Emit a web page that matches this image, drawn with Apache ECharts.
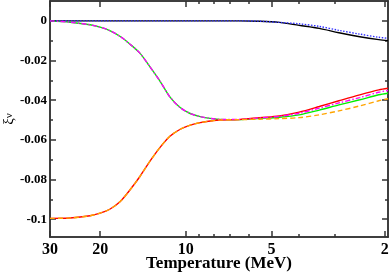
<!DOCTYPE html>
<html><head><meta charset="utf-8">
<script src="https://cdn.jsdelivr.net/npm/echarts@6/dist/echarts.min.js"></script>
<style>html,body{margin:0;padding:0;background:#fff}#c{width:392px;height:274px}</style>
</head><body><div id="c"></div>
<script>
const temperature = [30, 25.5, 21.7, 20, 18.5, 17, 15.7, 14.5, 13.4, 12.3, 11.4, 10.5, 9.7, 8.9, 8, 7.6, 6.5, 5.5, 4.7, 4, 3.4, 2.9, 2.45, 2.1, 1.95];
const xiBlack = [0,0,0,0,0,0,0,0,0,0,0,0,0,0,0,0,0,-0.0002,-0.0008,-0.0023,-0.0038,-0.006,-0.008,-0.0095,-0.01];
const xiBlue = [0,0,0,0,0,0,0,0,0,0,0,0,0,0,0,0,0,-0.0002,-0.0008,-0.0015,-0.0028,-0.0048,-0.0067,-0.0083,-0.0088];
const xiGreen = [0,-0.0007,-0.002,-0.0032,-0.0049,-0.0079,-0.0118,-0.0163,-0.023,-0.0306,-0.0382,-0.0436,-0.0466,-0.0483,-0.0494,-0.0497,-0.0498,-0.0492,-0.0486,-0.0474,-0.045,-0.0424,-0.0398,-0.0373,-0.0365];
const xiMagenta = [0,-0.0007,-0.002,-0.0032,-0.0049,-0.0079,-0.0118,-0.0163,-0.023,-0.0306,-0.0382,-0.0436,-0.0466,-0.0483,-0.0494,-0.0497,-0.0497,-0.049,-0.0482,-0.0466,-0.044,-0.0414,-0.0387,-0.036,-0.0351];
const xiRed = [-0.0996,-0.0994,-0.0983,-0.097,-0.095,-0.0911,-0.0852,-0.0785,-0.071,-0.0637,-0.0583,-0.0548,-0.0527,-0.0513,-0.0503,-0.05,-0.0498,-0.0488,-0.0479,-0.046,-0.0432,-0.0403,-0.0373,-0.0348,-0.034];
const xiOrange = [-0.0996,-0.0994,-0.0983,-0.097,-0.095,-0.0911,-0.0852,-0.0785,-0.071,-0.0637,-0.0583,-0.0548,-0.0527,-0.0513,-0.0503,-0.05,-0.0498,-0.0496,-0.0493,-0.0488,-0.0474,-0.0454,-0.0429,-0.0403,-0.0393];

const xMajorTicks = [30, 20, 10, 5, 2];
const xMinorTicks = [9, 8, 7, 6, 4, 3];
const yMajorTicks = [0, -0.02, -0.04, -0.06, -0.08, -0.1];
const yMinorTicks = [-0.01, -0.03, -0.05, -0.07, -0.09];

const FONT = '"Liberation Serif", "DejaVu Serif", serif';
const AX = {color: '#333', width: 1.5};

function pairs(ys) { return temperature.map((t, i) => [t, ys[i]]); }

function xAx(pos, vals, len, showLabels, extra) {
  return Object.assign({
    type: 'log', logBase: 10, min: 1.95, max: 30, inverse: true, position: pos,
    axisLine: {show: true, onZero: false, lineStyle: AX},
    axisTick: {show: true, inside: true, length: len, customValues: vals, lineStyle: AX},
    axisLabel: {show: showLabels, customValues: vals, margin: 5, color: '#000',
      fontFamily: FONT, fontWeight: 'bold', fontSize: 16},
    splitLine: {show: false}, minorTick: {show: false}, minorSplitLine: {show: false}
  }, extra || {});
}
function yAx(pos, vals, len, showLabels, extra) {
  return Object.assign({
    type: 'value', min: -0.109, max: 0.01, position: pos,
    axisLine: {show: true, onZero: false, lineStyle: AX},
    axisTick: {show: true, inside: true, length: len, customValues: vals, lineStyle: AX},
    axisLabel: {show: showLabels, customValues: vals, margin: 3, color: '#000',
      fontFamily: FONT, fontWeight: 'bold', fontSize: 13,
      formatter: v => (Math.abs(v) < 1e-9 ? '0' : String(Math.round(v * 100) / 100))},
    splitLine: {show: false}
  }, extra || {});
}

function line(ys, color, type, z) {
  return {type: 'line', data: pairs(ys), xAxisIndex: 0, yAxisIndex: 0, showSymbol: false,
    symbol: 'none', smooth: 0.3, z: z,
    lineStyle: {color: color, width: 1.4, type: type}};
}

const chart = echarts.init(document.getElementById('c'), null, {renderer: 'canvas'});
chart.setOption({
  animation: false,
  backgroundColor: '#fff',
  grid: {left: 50, right: 4, top: 1, bottom: 37, containLabel: false, outerBoundsMode: 'none'},
  xAxis: [
    xAx('bottom', xMajorTicks, 6, true, {name: 'Temperature (MeV)', nameLocation: 'middle', nameGap: 18,
      nameMoveOverlap: false,
      nameTextStyle: {fontFamily: FONT, fontWeight: 'bold', fontSize: 17, color: '#000'}}),
    xAx('bottom', xMinorTicks, 3, false),
    xAx('top', xMajorTicks, 6, false),
    xAx('top', xMinorTicks, 3, false)
  ],
  yAxis: [
    yAx('left', yMajorTicks, 6, true, {name: '{a|ξ}{b|ν}', nameLocation: 'middle', nameGap: 32, nameRotate: 90,
      nameMoveOverlap: false,
      nameTextStyle: {fontFamily: FONT, fontSize: 15, color: '#000', rich: {
        a: {fontFamily: FONT, fontSize: 15, color: '#000', height: 18, lineHeight: 18, verticalAlign: 'middle'},
        b: {fontFamily: FONT, fontSize: 11, color: '#000', height: 18, lineHeight: 18, verticalAlign: 'bottom', padding: [8, 0, 0, 0]}
      }}}),
    yAx('left', yMinorTicks, 3, false),
    yAx('right', yMajorTicks, 6, false),
    yAx('right', yMinorTicks, 3, false)
  ],
  series: [
    line(xiBlack, '#000000', 'solid', 3),
    line(xiBlue, '#3030ff', [1.5, 1.5], 4),
    line(xiGreen, '#00ee00', 'solid', 3),
    line(xiMagenta, '#ff00ff', [5, 2, 1.5, 2], 4),
    line(xiRed, '#ff0000', 'solid', 3),
    line(xiOrange, '#ffa500', [5, 3], 4)
  ]
});
</script></body></html>
